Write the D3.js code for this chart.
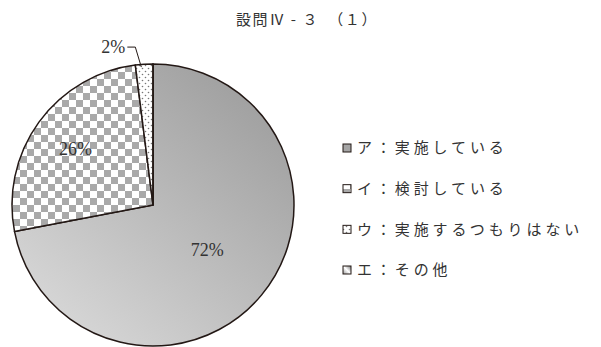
<!DOCTYPE html>
<html>
<head>
<meta charset="utf-8">
<script src="https://cdn.jsdelivr.net/npm/d3@7"></script>
<style>
  html, body { margin: 0; padding: 0; background: #fff; }
  svg { display: block; }
</style>
</head>
<body>
<svg id="chart" width="601" height="347"></svg>
<script>
'use strict';

// chart data
var title = '設問Ⅳ - ３　（１）';
var categories = ['ア：実施している', 'イ：検討している', 'ウ：実施するつもりはない', 'エ：その他'];
var values = [72, 26, 2, 0];
var fills = ['url(#grad)', 'url(#checker)', 'url(#dots)', 'url(#gradLeg)'];

var width = 601, height = 347;
var cx = 153, cy = 205, r = 141;
var ink = '#231815';

var svg = d3.select('#chart');
var defs = svg.append('defs');

// gradient for the big slice
var grad = defs.append('linearGradient')
	.attr('id', 'grad')
	.attr('gradientUnits', 'userSpaceOnUse')
	.attr('x1', r).attr('y1', -r)
	.attr('x2', -r * 0.7).attr('y2', r);
grad.append('stop').attr('offset', '0%').attr('stop-color', '#979797');
grad.append('stop').attr('offset', '100%').attr('stop-color', '#dadada');

var gradLeg = defs.append('linearGradient')
	.attr('id', 'gradLeg')
	.attr('x1', 1).attr('y1', 0).attr('x2', 0).attr('y2', 1);
gradLeg.append('stop').attr('offset', '0%').attr('stop-color', '#777');
gradLeg.append('stop').attr('offset', '50%').attr('stop-color', '#fff');
gradLeg.append('stop').attr('offset', '100%').attr('stop-color', '#999');

// checker pattern
var chk = defs.append('pattern')
	.attr('id', 'checker')
	.attr('patternUnits', 'userSpaceOnUse')
	.attr('width', 14).attr('height', 14);
chk.append('rect').attr('width', 14).attr('height', 14).attr('fill', '#fff');
chk.append('rect').attr('width', 7).attr('height', 7).attr('fill', '#a9a9a9');
chk.append('rect').attr('x', 7).attr('y', 7).attr('width', 7).attr('height', 7).attr('fill', '#a9a9a9');

// dot pattern
var dots = defs.append('pattern')
	.attr('id', 'dots')
	.attr('patternUnits', 'userSpaceOnUse')
	.attr('width', 6).attr('height', 6);
dots.append('rect').attr('width', 6).attr('height', 6).attr('fill', '#fff');
dots.append('circle').attr('cx', 1.5).attr('cy', 1.5).attr('r', 0.8).attr('fill', '#777');
dots.append('circle').attr('cx', 4.5).attr('cy', 4.5).attr('r', 0.8).attr('fill', '#777');

// title
svg.append('text')
	.attr('x', 307).attr('y', 20)
	.attr('dy', '0.36em')
	.attr('text-anchor', 'middle')
	.attr('font-family', '"Noto Sans CJK JP", sans-serif')
	.attr('font-size', 15)
	.attr('letter-spacing', 1.6)
	.attr('fill', '#333')
	.text(title);

// pie
var pie = d3.pie().sort(null).value(function (d) { return d; });
var arc = d3.arc().innerRadius(0).outerRadius(r);
var arcs = pie(values);

var g = svg.append('g').attr('transform', 'translate(' + cx + ',' + cy + ')');

g.selectAll('path.slice')
	.data(arcs)
	.enter().append('path')
	.attr('class', 'slice')
	.attr('d', arc)
	.attr('fill', function (d, i) { return fills[i]; })
	.attr('stroke', ink)
	.attr('stroke-width', 1.5)
	.attr('stroke-linejoin', 'round');

// labels inside
var labelR = [0.5, 0.68];
arcs.forEach(function (d, i) {
	if (i > 1) return;
	var a = (d.startAngle + d.endAngle) / 2;
	var lr = r * labelR[i];
	g.append('text')
		.attr('x', Math.sin(a) * lr)
		.attr('y', -Math.cos(a) * lr)
		.attr('dy', '0.35em')
		.attr('text-anchor', 'middle')
		.attr('font-family', '"Liberation Serif", serif')
		.attr('font-size', 18)
		.attr('fill', '#333')
		.text(values[i] + '%');
});

// small slice label with leader
var small = arcs[2];
var ma = (small.startAngle + small.endAngle) / 2;
var p0 = [Math.sin(ma) * r * 0.98 - 3, -Math.cos(ma) * r * 0.98];
var p1 = [p0[0] - 6, p0[1] - 20];
var p2 = [p1[0] - 8, p1[1]];
g.append('polyline')
	.attr('points', [p0, p1, p2].map(function (p) { return p.join(','); }).join(' '))
	.attr('fill', 'none')
	.attr('stroke', ink)
	.attr('stroke-width', 1);
g.append('text')
	.attr('x', p2[0] - 2)
	.attr('y', p2[1])
	.attr('dy', '0.35em')
	.attr('text-anchor', 'end')
	.attr('font-family', '"Liberation Serif", serif')
	.attr('font-size', 18)
	.attr('fill', '#333')
	.text(values[2] + '%');

// legend
var ly = d3.scalePoint().domain(d3.range(categories.length)).range([148, 270]);
var leg = svg.append('g');
categories.forEach(function (c, i) {
	var y = ly(i);
	leg.append('rect')
		.attr('x', 343).attr('y', y - 4)
		.attr('width', 8).attr('height', 8)
		.attr('fill', i === 0 ? '#a5a5a5' : fills[i])
		.attr('stroke', ink)
		.attr('stroke-width', 1);
	leg.append('text')
		.attr('x', 357).attr('y', y)
		.attr('dy', '0.36em')
		.attr('font-family', '"Noto Sans CJK JP", sans-serif')
		.attr('font-size', 15)
		.attr('letter-spacing', 3.9)
		.attr('fill', '#333')
		.text(c);
});
</script>
</body>
</html>
